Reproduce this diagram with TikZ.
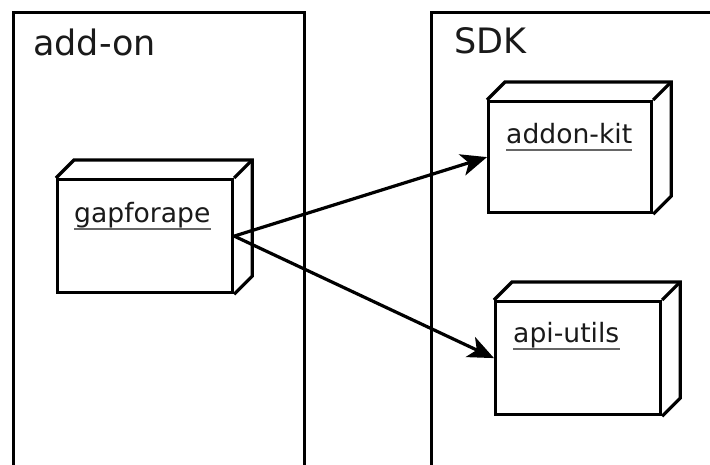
\documentclass[tikz,border=0pt]{standalone}
\usepackage{fontspec}
\setmainfont{DejaVu Sans}
\usetikzlibrary{arrows.meta,calc}
\definecolor{inktext}{HTML}{1A1A1A}
\definecolor{inkrule}{HTML}{666666}
\tikzset{
  frame/.style={line width=3.2pt},
  nodebox/.style={draw, line width=3.2pt, rectangle, inner sep=0pt, anchor=north west},
  depthline/.style={line width=3.2pt, line join=miter},
  boxlabel/.style={inner sep=0pt, anchor=base west, text=inktext, font=\fontsize{26.6pt}{30pt}\selectfont},
  title/.style={inner sep=0pt, anchor=base west, text=inktext, font=\fontsize{35pt}{40pt}\selectfont},
  ulrule/.style={inkrule, line width=1.8pt},
  dep/.style={line width=3.2pt, -{Stealth[length=26pt,width=22pt,inset=7pt]}}
}
\newcommand{\deploynode}[5]{%
  % #1 name, #2 x, #3 y, #4 width, #5 height
  \node[nodebox, minimum width=#4pt, minimum height=#5pt] (#1) at (#2,#3) {};
  \draw[depthline] (#1.north west) -- ++(18,-18) -- ($(#1.north east)+(18,-18)$)
    -- ($(#1.south east)+(18,-18)$) -- (#1.south east);
  \draw[depthline] (#1.north east) -- ++(18,-18);
}
\begin{document}
\begin{tikzpicture}[x=1pt, y=-1pt]
  \useasboundingbox (0,0) rectangle (710,464);
  \fill[white] (0,0) rectangle (710,464);

  % package frames
  \draw[frame] (13.5,480) -- (13.5,12.5) -- (304.5,12.5) -- (304.5,480);
  \draw[frame] (431.5,480) -- (431.5,12.5) -- (730,12.5);
  \node[title] (tAddon) at (33,55) {add-on};
  \node[title] (tSdk) at (454,53) {SDK};

  % deployment nodes
  \deploynode{gap}{56}{178}{175}{113}
  \deploynode{kit}{487}{100}{163}{111}
  \deploynode{api}{494}{300}{165}{113}

  % labels with underlines
  \node[boxlabel] (lGap) at ($(gap.north west)+(18,44)$) {gapforape};
  \node[boxlabel] (lKit) at ($(kit.north west)+(19,43)$) {addon-kit};
  \node[boxlabel] (lApi) at ($(api.north west)+(19,42)$) {api-utils};
  \foreach \l in {lGap,lKit,lApi}
    \draw[ulrule] ([yshift=-7pt]\l.base west) -- ([yshift=-7pt]\l.base east);

  % dependencies
  \draw[dep] (gap.east) -- (kit.west);
  \draw[dep] (gap.east) -- (api.west);
\end{tikzpicture}
\end{document}
